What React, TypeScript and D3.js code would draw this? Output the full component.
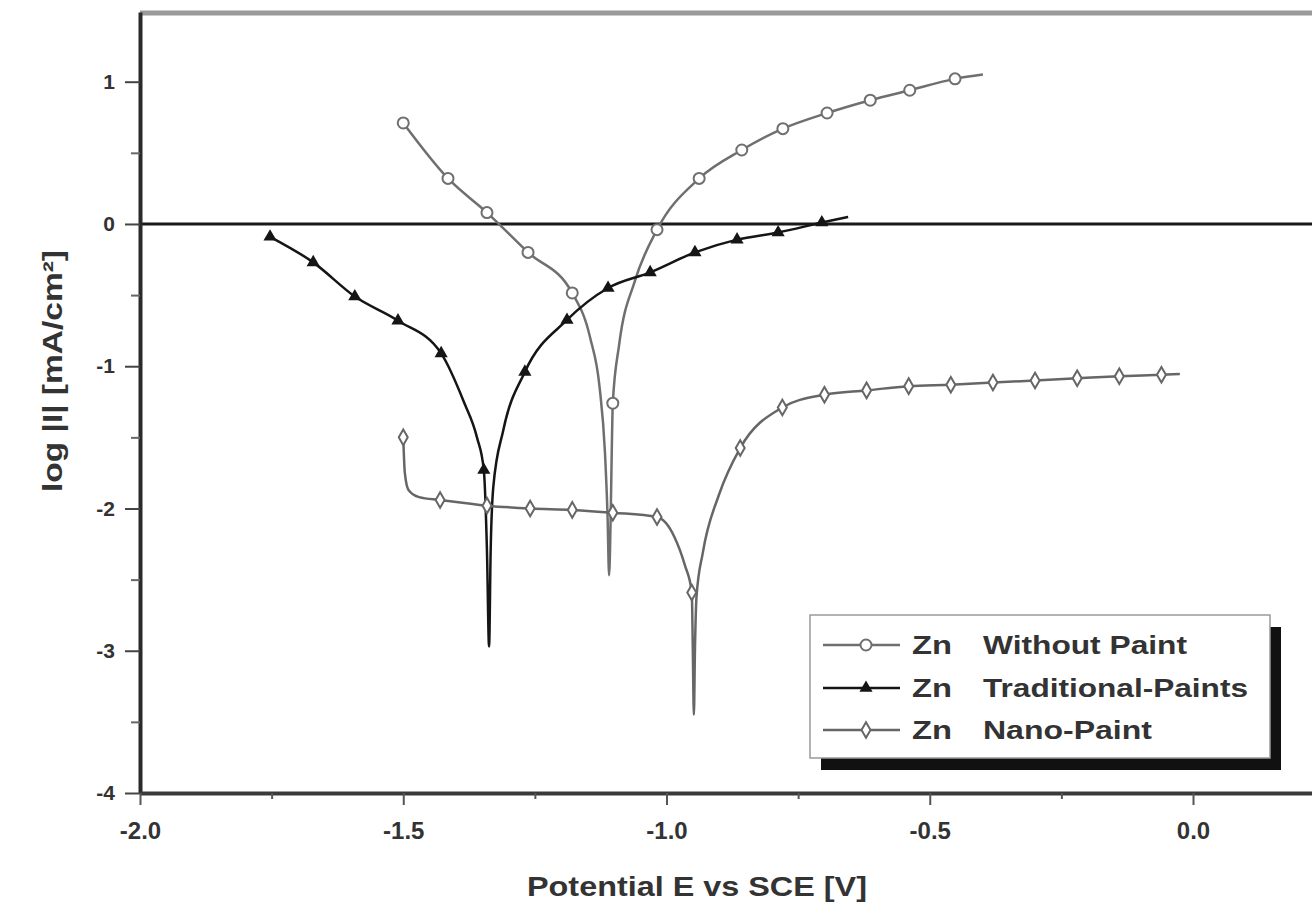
import React, { useEffect, useRef } from 'react';
import * as d3 from 'd3';

// [potential E (V vs SCE), log|I|, 1 = marker drawn at this point]
type Pt = [number, number, number];

const withoutPaint: Pt[] = [
  [-1.500, 0.71, 1], [-1.415, 0.32, 1], [-1.341, 0.08, 1], [-1.263, -0.20, 1],
  [-1.179, -0.485, 1], [-1.145, -0.80, 0], [-1.127, -1.15, 0], [-1.117, -1.60, 0],
  [-1.112, -2.05, 0], [-1.109, -2.47, 0], [-1.106, -2.05, 0], [-1.104, -1.60, 0],
  [-1.102, -1.26, 1], [-1.090, -0.85, 0], [-1.060, -0.40, 0], [-1.018, -0.04, 1],
  [-0.938, 0.32, 1], [-0.857, 0.52, 1], [-0.779, 0.67, 1], [-0.695, 0.78, 1],
  [-0.613, 0.87, 1], [-0.538, 0.94, 1], [-0.452, 1.02, 1], [-0.399, 1.05, 0],
];

const traditionalPaints: Pt[] = [
  [-1.753, -0.09, 1], [-1.671, -0.27, 1], [-1.592, -0.51, 1], [-1.510, -0.68, 1],
  [-1.428, -0.91, 1], [-1.385, -1.25, 0], [-1.360, -1.50, 0], [-1.347, -1.73, 1],
  [-1.341, -2.30, 0], [-1.337, -2.97, 0], [-1.334, -2.30, 0], [-1.329, -1.85, 0],
  [-1.310, -1.45, 0], [-1.269, -1.04, 1], [-1.189, -0.675, 1], [-1.111, -0.45, 1],
  [-1.031, -0.34, 1], [-0.946, -0.20, 1], [-0.866, -0.11, 1], [-0.788, -0.06, 1],
  [-0.705, 0.01, 1], [-0.655, 0.05, 0],
];

const nanoPaint: Pt[] = [
  [-1.500, -1.50, 1], [-1.497, -1.75, 0], [-1.490, -1.87, 0], [-1.470, -1.92, 0],
  [-1.430, -1.94, 1], [-1.341, -1.98, 1], [-1.259, -2.00, 1], [-1.179, -2.01, 1],
  [-1.102, -2.03, 1], [-1.018, -2.06, 1], [-0.985, -2.20, 0], [-0.965, -2.40, 0],
  [-0.952, -2.59, 1], [-0.950, -3.00, 0], [-0.948, -3.45, 0], [-0.946, -3.00, 0],
  [-0.943, -2.62, 0], [-0.931, -2.31, 0], [-0.900, -1.90, 0], [-0.860, -1.575, 1],
  [-0.780, -1.29, 1], [-0.700, -1.20, 1], [-0.620, -1.17, 1], [-0.540, -1.14, 1],
  [-0.460, -1.13, 1], [-0.380, -1.115, 1], [-0.300, -1.10, 1], [-0.220, -1.085, 1],
  [-0.140, -1.07, 1], [-0.060, -1.06, 1], [-0.025, -1.055, 0],
];

const xTicks = [-2.0, -1.5, -1.0, -0.5, 0.0];
const xMinorTicks = [-1.75, -1.25, -0.75, -0.25];
const yTicks = [-4, -3, -2, -1, 0, 1];
const yMinorTicks = [-3.5, -2.5, -1.5, -0.5, 0.5];
const legendNames = ['Without Paint', 'Traditional-Paints', 'Nano-Paint'];

const App = () => {
  const svgRef = useRef<SVGSVGElement>(null);

  useEffect(() => {
    const svg = d3.select(svgRef.current);
    svg.selectAll('*').remove();

    const width = 1312, height = 916;
    const font = 'Arial, "Liberation Sans", Helvetica, sans-serif';
    const x = d3.scaleLinear().domain([-2, 0.226]).range([140, 1312]);
    const y = d3.scaleLinear().domain([-4, 1.49]).range([793, 12]);

    svg.append('rect').attr('width', width).attr('height', height).attr('fill', '#fff');

    // top frame + zero line
    svg.append('line')
      .attr('x1', x(-2)).attr('x2', width).attr('y1', 13).attr('y2', 13)
      .attr('stroke', '#9a9a9a').attr('stroke-width', 5);
    svg.append('line')
      .attr('x1', x(-2)).attr('x2', width).attr('y1', y(0)).attr('y2', y(0))
      .attr('stroke', '#1a1a1a').attr('stroke-width', 3);

    // y axis
    const yAxis = svg.append('g')
      .attr('transform', `translate(${x(-2)},0)`)
      .call(d3.axisLeft(y).tickValues(yTicks).tickSize(15).tickSizeOuter(0).tickPadding(10)
        .tickFormat(d => String(d)));
    yAxis.select('.domain').attr('stroke', '#2a2a2a').attr('stroke-width', 4);
    yAxis.selectAll('.tick line').attr('stroke', '#444').attr('stroke-width', 2);
    yAxis.selectAll('.tick text')
      .attr('font-size', 21).attr('font-weight', 'bold').attr('font-family', font).attr('fill', '#333');

    const yMinor = svg.append('g')
      .attr('transform', `translate(${x(-2)},0)`)
      .call(d3.axisLeft(y).tickValues(yMinorTicks).tickSize(9).tickFormat(() => ''));
    yMinor.select('.domain').remove();
    yMinor.selectAll('.tick line').attr('stroke', '#666').attr('stroke-width', 2);

    // x axis
    const xAxis = svg.append('g')
      .attr('transform', `translate(0,${y(-4)})`)
      .call(d3.axisBottom(x).tickValues(xTicks).tickSize(12).tickSizeOuter(0).tickPadding(17)
        .tickFormat(d => (d as number).toFixed(1)));
    xAxis.select('.domain').attr('stroke', '#3a3a3a').attr('stroke-width', 4);
    xAxis.selectAll('.tick line').attr('stroke', '#555').attr('stroke-width', 2);
    xAxis.selectAll('.tick text')
      .attr('font-size', 24).attr('font-weight', 'bold').attr('font-family', font).attr('fill', '#333');

    const xMinor = svg.append('g')
      .attr('transform', `translate(0,${y(-4)})`)
      .call(d3.axisBottom(x).tickValues(xMinorTicks).tickSize(6).tickFormat(() => ''));
    xMinor.select('.domain').remove();
    xMinor.selectAll('.tick line').attr('stroke', '#555').attr('stroke-width', 2);

    // axis titles
    svg.append('text')
      .attr('x', 527).attr('y', 896)
      .attr('textLength', 340).attr('lengthAdjust', 'spacingAndGlyphs')
      .attr('font-size', 28).attr('font-weight', 'bold').attr('font-family', font).attr('fill', '#333')
      .text('Potential E vs SCE [V]');
    svg.append('text')
      .attr('transform', 'translate(62,492) rotate(-90)')
      .attr('textLength', 242).attr('lengthAdjust', 'spacingAndGlyphs')
      .attr('font-size', 27).attr('font-weight', 'bold').attr('font-family', font).attr('fill', '#333')
      .text('log |I| [mA/cm²]');

    const line = d3.line<Pt>().x(d => x(d[0])).y(d => y(d[1])).curve(d3.curveMonotoneX);

    const series = [
      { data: withoutPaint, color: '#6f6f6f', shape: 'circle' },
      { data: traditionalPaints, color: '#151515', shape: 'triangle' },
      { data: nanoPaint, color: '#666', shape: 'diamond' },
    ];

    const drawMarker = (g, shape, color, cx, cy) => {
      if (shape === 'circle') {
        g.append('circle').attr('cx', cx).attr('cy', cy).attr('r', 5.5)
          .attr('fill', '#fff').attr('stroke', color).attr('stroke-width', 2);
      } else if (shape === 'triangle') {
        g.append('path').attr('d', d3.symbol(d3.symbolTriangle, 75)())
          .attr('transform', `translate(${cx},${cy})`).attr('fill', color);
      } else {
        g.append('path').attr('d', d3.symbol(d3.symbolDiamond, 70)())
          .attr('transform', `translate(${cx},${cy})`)
          .attr('fill', '#fff').attr('stroke', color).attr('stroke-width', 2);
      }
    };

    series.forEach(s => {
      svg.append('path').datum(s.data)
        .attr('d', line).attr('fill', 'none')
        .attr('stroke', s.color).attr('stroke-width', 2.5);
    });
    series.forEach(s => {
      const g = svg.append('g');
      s.data.filter(d => d[2] === 1).forEach(d => drawMarker(g, s.shape, s.color, x(d[0]), y(d[1])));
    });

    // legend
    const lg = svg.append('g');
    lg.append('rect').attr('x', 821).attr('y', 627).attr('width', 460).attr('height', 143).attr('fill', '#111');
    lg.append('rect').attr('x', 810).attr('y', 615).attr('width', 460).attr('height', 143)
      .attr('fill', '#fff').attr('stroke', '#9a9a9a').attr('stroke-width', 1.5);
    const labelWidths = [204, 265, 169];
    const rowY = [645, 688, 730];
    series.forEach((s, i) => {
      lg.append('line').attr('x1', 823).attr('x2', 900).attr('y1', rowY[i]).attr('y2', rowY[i])
        .attr('stroke', s.color).attr('stroke-width', 2.5);
      drawMarker(lg, s.shape, s.color, 866, rowY[i]);
      lg.append('text').attr('x', 912).attr('y', rowY[i] + 9)
        .attr('textLength', 40).attr('lengthAdjust', 'spacingAndGlyphs')
        .attr('font-size', 25).attr('font-weight', 'bold').attr('font-family', font).attr('fill', '#333')
        .text('Zn');
      lg.append('text').attr('x', 983).attr('y', rowY[i] + 9)
        .attr('textLength', labelWidths[i]).attr('lengthAdjust', 'spacingAndGlyphs')
        .attr('font-size', 25).attr('font-weight', 'bold').attr('font-family', font).attr('fill', '#333')
        .text(legendNames[i]);
    });
  }, []);

  return (
    <svg ref={svgRef} width={1312} height={916}
      style={{ position: 'absolute', left: 0, top: 0, display: 'block' }} />
  );
};

export default App;
